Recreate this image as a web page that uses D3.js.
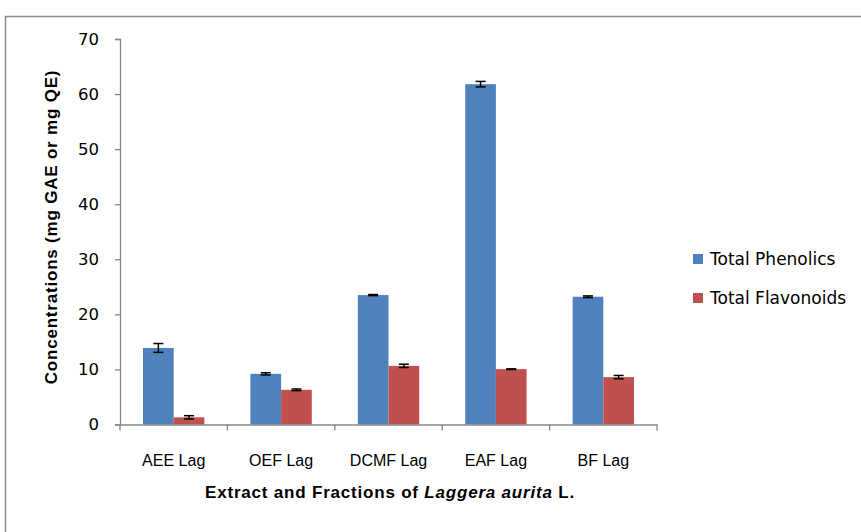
<!DOCTYPE html>
<html>
<head>
<meta charset="utf-8">
<script src="https://cdn.jsdelivr.net/npm/d3@7"></script>
<style>
  body { margin: 0; background: #fff; }
  svg { display: block; }
</style>
</head>
<body>
<div id="container"></div>
<script>
window.onload = function() {
    'use strict';

    const categories = ['AEE Lag', 'OEF Lag', 'DCMF Lag', 'EAF Lag', 'BF Lag'];
    const seriesNames = ['Total Phenolics', 'Total Flavonoids'];
    const phenolics = [13.9, 9.2, 23.5, 61.8, 23.2];
    const phenolicsErr = [0.8, 0.2, 0.1, 0.5, 0.15];
    const flavonoids = [1.3, 6.3, 10.65, 10.05, 8.6];
    const flavonoidsErr = [0.3, 0.15, 0.3, 0.05, 0.3];
    const yTicks = [0, 10, 20, 30, 40, 50, 60, 70];

    const canvas = { width: 861, height: 532 };
    const plot = { left: 120, right: 657, top: 39, bottom: 424.5 };

    const color = {
        phenolics: '#4F81BD',
        flavonoids: '#C0504D',
        axis: '#868686',
        text: '#000000'
    };

    const svg = d3.select('#container')
        .append('svg')
        .attr('width', canvas.width)
        .attr('height', canvas.height);

    // chart frame
    svg.append('rect')
        .attr('x', 5.5).attr('y', 16.5)
        .attr('width', 900).attr('height', 600)
        .attr('fill', 'none')
        .attr('stroke', '#8c8c8c')
        .attr('stroke-width', 1.5);

    const x = d3.scaleBand()
        .domain(categories)
        .range([plot.left, plot.right]);

    const inner = d3.scaleBand()
        .domain(seriesNames)
        .range([0, x.bandwidth()])
        .paddingInner(0)
        .paddingOuter(0.75);

    const y = d3.scaleLinear()
        .domain([0, 70])
        .range([plot.bottom, plot.top]);

    // y axis
    const yAxis = svg.append('g')
        .attr('transform', `translate(${plot.left},0)`)
        .call(d3.axisLeft(y).tickValues(yTicks).tickSize(5).tickPadding(16));
    yAxis.select('.domain').attr('stroke', color.axis).attr('stroke-width', 1.3);
    yAxis.selectAll('.tick line').attr('stroke', color.axis).attr('stroke-width', 1.3);
    yAxis.selectAll('.tick text')
        .attr('fill', color.text)
        .style('font-family', '"DejaVu Sans", Verdana, sans-serif')
        .style('font-size', '16.5px');

    const series = [
        { name: seriesNames[0], values: phenolics, err: phenolicsErr, color: color.phenolics },
        { name: seriesNames[1], values: flavonoids, err: flavonoidsErr, color: color.flavonoids }
    ];

    series.forEach(s => {
        const g = svg.append('g');
        g.selectAll('rect')
            .data(categories)
            .enter()
            .append('rect')
            .attr('x', (d) => x(d) + inner(s.name))
            .attr('y', (d, i) => y(s.values[i]))
            .attr('width', inner.bandwidth())
            .attr('height', (d, i) => y(0) - y(s.values[i]))
            .attr('fill', s.color);

        // error bars
        const eb = g.selectAll('g.err')
            .data(categories)
            .enter()
            .append('g')
            .attr('class', 'err');
        const cx = (d) => x(d) + inner(s.name) + inner.bandwidth() / 2;
        eb.append('line')
            .attr('x1', cx).attr('x2', cx)
            .attr('y1', (d, i) => y(s.values[i] + s.err[i]))
            .attr('y2', (d, i) => y(s.values[i] - s.err[i]))
            .attr('stroke', '#000').attr('stroke-width', 1.5);
        [1, -1].forEach(sign => {
            eb.append('line')
                .attr('x1', (d) => cx(d) - 5).attr('x2', (d) => cx(d) + 5)
                .attr('y1', (d, i) => y(s.values[i] + sign * s.err[i]))
                .attr('y2', (d, i) => y(s.values[i] + sign * s.err[i]))
                .attr('stroke', '#000').attr('stroke-width', 1.5);
        });
    });

    // x axis
    const xAxis = svg.append('g')
        .attr('transform', `translate(0,${plot.bottom})`)
        .call(d3.axisBottom(x).tickSize(0).tickPadding(30));
    xAxis.select('.domain').attr('stroke', color.axis).attr('stroke-width', 1.3);
    xAxis.selectAll('.tick text')
        .attr('fill', color.text)
        .style('font-family', '"Liberation Sans", Arial, sans-serif')
        .style('font-size', '16px');

    // category boundary ticks
    const bounds = categories.map(d => x(d)).concat([x(categories[categories.length - 1]) + x.bandwidth()]);
    xAxis.selectAll('line.bound')
        .data(bounds)
        .enter()
        .append('line')
        .attr('class', 'bound')
        .attr('x1', d => d).attr('x2', d => d)
        .attr('y1', 0).attr('y2', 6)
        .attr('stroke', color.axis).attr('stroke-width', 1.3);

    // axis titles
    svg.append('text')
        .attr('transform', 'translate(57,227) rotate(-90)')
        .attr('text-anchor', 'middle')
        .style('font-family', '"Liberation Sans", Arial, sans-serif')
        .style('font-size', '17px')
        .style('font-weight', 'bold')
        .style('letter-spacing', '0.8px')
        .text('Concentrations (mg GAE or mg QE)');

    const xt = svg.append('text')
        .attr('x', 390)
        .attr('y', 498)
        .attr('text-anchor', 'middle')
        .style('font-family', '"Liberation Sans", Arial, sans-serif')
        .style('font-size', '17px')
        .style('font-weight', 'bold')
        .style('letter-spacing', '0.8px');
    xt.append('tspan').text('Extract and Fractions of ');
    xt.append('tspan').style('font-style', 'italic').text('Laggera aurita');
    xt.append('tspan').text(' L.');

    // legend
    const legend = svg.append('g')
        .selectAll('g')
        .data(series)
        .enter()
        .append('g')
        .attr('transform', (d, i) => `translate(693,${259 + i * 39})`);
    legend.append('rect')
        .attr('x', 0).attr('y', -5)
        .attr('width', 10).attr('height', 10)
        .attr('fill', d => d.color);
    legend.append('text')
        .attr('x', 17).attr('y', 0)
        .attr('dy', '0.36em')
        .style('font-family', '"DejaVu Sans", Verdana, sans-serif')
        .style('font-size', '17px')
        .attr('fill', color.text)
        .text(d => d.name);
};
</script>
</body>
</html>
